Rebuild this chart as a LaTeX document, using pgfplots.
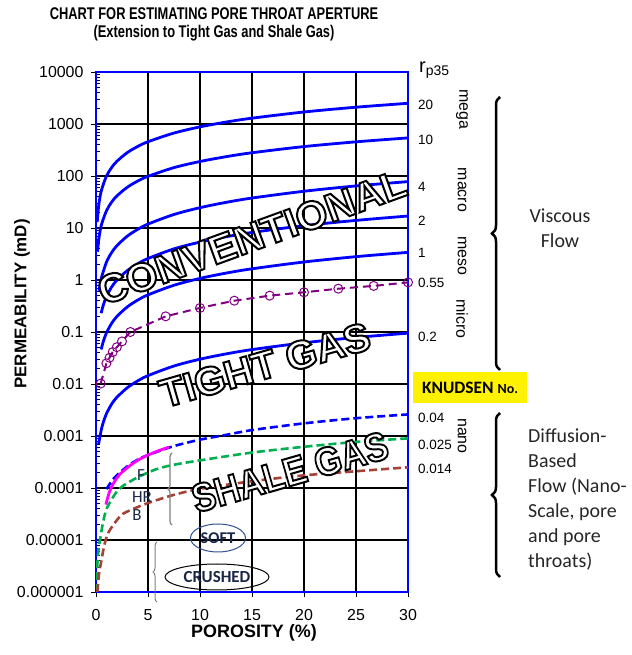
\documentclass[border=0pt]{standalone}
\usepackage{fontspec}
\setmainfont{Liberation Sans}
\newfontfamily\calib{Carlito}
\usepackage{pgfplots}
\pgfplotsset{compat=1.18}
\usetikzlibrary{decorations.pathreplacing}
\definecolor{myblue}{RGB}{0,0,255}
\definecolor{mypurple}{RGB}{128,0,128}
\definecolor{mygreen}{RGB}{0,176,80}
\definecolor{mybrown}{RGB}{165,65,55}
\definecolor{mymag}{RGB}{255,0,255}
\definecolor{navy}{RGB}{25,38,70}
\definecolor{ellblue}{RGB}{47,82,143}
\definecolor{txtdark}{RGB}{38,38,38}
\newcommand{\bigf}{\fontsize{40}{40}\selectfont\bfseries}
\newcommand{\outl}[5]{%
  \node[rotate=#3, xscale=#4, text=white] at (#1,#2) {\special{pdf:literal direct 2 Tr 2 w 0 0 0 RG}\bigf #5\special{pdf:literal direct 0 Tr}};
}
\begin{document}
\begin{tikzpicture}[x=1bp,y=1bp]
\useasboundingbox (0,0) rectangle (632,655);
\begin{axis}[at={(96bp,63bp)}, anchor=south west, width=312bp, height=520bp, scale only axis,
  xmin=0, xmax=30, ymin=1e-6, ymax=1e4, ymode=log,
  xtick={0,5,10,15,20,25,30}, xticklabels={0,5,10,15,20,25,30},
  ytick={1e-6,1e-5,1e-4,1e-3,1e-2,1e-1,1,10,100,1000,10000},
  yticklabels={0.000001,0.00001,0.0001,0.001,0.01,0.1,1,10,100,1000,10000},
  minor ytick={2e-6,3e-6,4e-6,5e-6,6e-6,7e-6,8e-6,9e-6,2e-5,3e-5,4e-5,5e-5,6e-5,7e-5,8e-5,9e-5,2e-4,3e-4,4e-4,5e-4,6e-4,7e-4,8e-4,9e-4,2e-3,3e-3,4e-3,5e-3,6e-3,7e-3,8e-3,9e-3,2e-2,3e-2,4e-2,5e-2,6e-2,7e-2,8e-2,9e-2,2e-1,3e-1,4e-1,5e-1,6e-1,7e-1,8e-1,9e-1,2,3,4,5,6,7,8,9,20,30,40,50,60,70,80,90,200,300,400,500,600,700,800,900,2000,3000,4000,5000,6000,7000,8000,9000},
  tick pos=left, tick align=outside, major tick length=5bp, minor tick length=4bp,
  minor y tick style={xshift=4bp},
  tick style={black, line width=0.8bp},
  grid=major, major grid style={black, line width=1.1bp},
  axis line style={myblue, line width=1.2bp},
  xticklabel style={font=\fontsize{16}{16}\selectfont, anchor=center, yshift=-18bp},
  yticklabel style={font=\fontsize{16}{16}\selectfont, anchor=east, xshift=-4bp},
]
% r35 = 20
\addplot[myblue, line width=2.8bp, smooth] coordinates {(0.12,13)(0.25,26)(0.5,51)(1,99)(1.5,145)(2,191)(3,281)(4,369)(5,456)(7.5,670)(10,880)(12.5,1089)(15,1294)(20,1702)(25,2103)(30,2500)};
% r35 = 10
\addplot[myblue, line width=2.8bp, smooth] coordinates {(0.15,3.5)(0.25,5.7)(0.5,11.1)(1,21.3)(1.5,31.4)(2,41.2)(3,60.6)(4,79.7)(5,98.5)(7.5,145)(10,190)(12.5,235)(15,280)(20,368)(25,454)(30,540)};
% r35 = 4
\addplot[myblue, line width=2.8bp, smooth] coordinates {(0.3,0.62)(0.5,1.06)(1,2.19)(1.5,3.36)(2,4.54)(3,6.95)(4,9.4)(5,11.9)(7.5,18.2)(10,24.6)(12.5,31.1)(15,37.7)(20,50.9)(25,64.4)(30,78)};
% r35 = 2
\addplot[myblue, line width=2.8bp, smooth] coordinates {(0.5,0.23)(0.7,0.328)(1,0.478)(1.5,0.733)(2,0.99)(3,1.51)(4,2.05)(5,2.59)(7.5,3.97)(10,5.36)(12.5,6.78)(15,8.21)(20,11.1)(25,14.0)(30,17)};
% r35 = 1
\addplot[myblue, line width=2.8bp, smooth] coordinates {(0.5,0.0462)(0.7,0.0656)(1,0.0955)(1.5,0.1465)(2,0.198)(3,0.303)(4,0.41)(5,0.518)(7.5,0.793)(10,1.073)(12.5,1.357)(15,1.642)(20,2.22)(25,2.81)(30,3.4)};
% r35 = 0.2
\addplot[myblue, line width=2.8bp, smooth] coordinates {(0.25,0.0007)(0.5,0.00129)(0.7,0.00183)(1,0.00267)(1.5,0.0041)(2,0.00553)(3,0.00846)(4,0.01145)(5,0.01448)(7.5,0.0222)(10,0.030)(12.5,0.0379)(15,0.0459)(20,0.062)(25,0.0785)(30,0.095)};
% r35 = 0.55 (purple, circles)
\addplot[mypurple, line width=2bp, dash pattern=on 8bp off 5bp, mark=o, mark size=4.5bp, mark options={solid, line width=1bp}] coordinates {(0.45,0.0102)(1.0,0.025)(1.3,0.032)(1.6,0.041)(2.0,0.051)(2.5,0.066)(3.3,0.10)(6.7,0.20)(10,0.29)(13.3,0.40)(16.7,0.50)(20,0.58)(23.3,0.68)(26.7,0.77)(30,0.90)};
% r35 = 0.04 (blue dashed)
\addplot[myblue, line width=2.6bp, dash pattern=on 8bp off 4bp, smooth] coordinates {(1.0,9.5e-5)(1.5,1.35e-4)(2,1.75e-4)(3,2.6e-4)(4,3.5e-4)(5,4.3e-4)(7.5,6.4e-4)(10,8.5e-4)(12.5,1.05e-3)(15,1.3e-3)(20,1.75e-3)(25,2.2e-3)(30,2.6e-3)};
% r35 = 0.025 (green dashed)
\addplot[mygreen, line width=2.6bp, dash pattern=on 8bp off 4bp, smooth] coordinates {(0.05,1e-6)(0.1,2.5e-6)(0.2,5.5e-6)(0.4,1.05e-5)(0.7,2.3e-5)(1,3.9e-5)(1.5,6e-5)(2,8.5e-5)(2.6,1.1e-4)(4,1.6e-4)(5.8,2.3e-4)(7.5,2.8e-4)(10,3.4e-4)(15,4.8e-4)(20,6.2e-4)(25,7.7e-4)(30,9e-4)};
% r35 = 0.014 (brown dashed)
\addplot[mybrown, line width=2.6bp, dash pattern=on 8bp off 4bp, smooth] coordinates {(0.13,1e-6)(0.3,2.3e-6)(0.55,4.3e-6)(0.8,8e-6)(1.2,1.4e-5)(2,2.4e-5)(2.6,3.2e-5)(4,4.3e-5)(5.2,5.3e-5)(7.5,7.4e-5)(10,9.6e-5)(15,1.35e-4)(20,1.75e-4)(25,2.1e-4)(30,2.5e-4)};
% magenta segment
\addplot[mymag, line width=2.8bp, smooth] coordinates {(0.95,4.8e-5)(1.3,8.5e-5)(1.7,1.25e-4)(2.2,1.75e-4)(3,2.45e-4)(4,3.4e-4)(5,4.3e-4)(6,5.2e-4)(7,6.1e-4)};
\end{axis}
% big outlined labels
\outl{252}{418}{20}{1.02}{CONVENTIONAL}
\outl{265}{290}{16}{1.0}{TIGHT GAS}
\outl{290}{183}{16}{0.87}{SHALE GAS}
% title
\node[xscale=0.76, font=\fontsize{17}{17}\selectfont\bfseries] at (214,641) {CHART FOR ESTIMATING PORE THROAT APERTURE};
\node[xscale=0.76, font=\fontsize{17}{17}\selectfont\bfseries] at (214,622) {(Extension to Tight Gas and Shale Gas)};
% axis titles
\node[rotate=90, font=\fontsize{17}{17}\selectfont\bfseries] at (22,351) {PERMEABILITY (mD)};
\node[font=\fontsize{18}{18}\selectfont\bfseries] at (254,22) {POROSITY (\%)};
% r35 label
\node[anchor=base west, inner sep=0] at (419,582) {\fontsize{20}{20}\selectfont r\raisebox{-3bp}{\fontsize{14}{14}\selectfont p35}};
% right value labels
\foreach \v/\yy in {20/550,10/515,4/468,2/434,1/402,0.55/372,0.2/318,0.04/237,0.025/210,0.014/186}{
  \node[anchor=west, inner sep=0, font=\fontsize{13.5}{13.5}\selectfont] at (418,\yy) {\v};
}
% size class words
\foreach \w/\yy in {mega/546,macro/465,meso/399,micro/336,nano/219}{
  \node[rotate=-90, font=\fontsize{16}{16}\selectfont] at (462,\yy) {\w};
}
% Knudsen box
\fill[yellow] (413,252) rectangle (527,283);
\node[font=\calib\bfseries] at (470,267.5) {\fontsize{17.5}{17.5}\selectfont KNUDSEN \fontsize{14}{14}\selectfont No.};
% braces
\draw[line width=2.5bp, decorate, decoration={brace, amplitude=8bp}] (500,285) -- (500,558);
\draw[line width=2.5bp, decorate, decoration={brace, amplitude=8bp}] (500,78) -- (500,242);
\node[font=\calib\fontsize{20}{25}\selectfont, text=txtdark, align=center] at (560,427) {Viscous\\Flow};
\node[font=\calib\fontsize{20}{25}\selectfont, text=txtdark, align=left, anchor=north west, inner sep=0] at (528,226) {Diffusion-\\Based\\Flow (Nano-\\Scale, pore\\and pore\\throats)};
% shale sub-labels
\node[font=\calib\fontsize{17}{17}\selectfont, text=navy] at (141,180) {F};
\node[font=\calib\fontsize{17}{17}\selectfont, text=navy] at (142,158) {HR};
\node[font=\calib\fontsize{17}{17}\selectfont, text=navy] at (137,140) {B};
\draw[gray, line width=1.2bp, decorate, decoration={brace, amplitude=4bp}] (172,130) -- (172,202);
\draw[gray, line width=1bp, decorate, decoration={brace, amplitude=4bp}] (157,53) -- (157,113);
% ellipses
\draw[ellblue, line width=1bp] (218,117) ellipse [x radius=27.5, y radius=14];
\node[font=\calib\bfseries\fontsize{16.5}{16.5}\selectfont, text=navy] at (218,117) {SOFT};
\draw[black, line width=1bp] (217,78) ellipse [x radius=52, y radius=13];
\node[font=\calib\bfseries\fontsize{17}{17}\selectfont, text=navy] at (217,78) {CRUSHED};
\end{tikzpicture}
\end{document}
